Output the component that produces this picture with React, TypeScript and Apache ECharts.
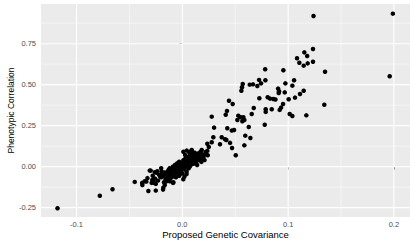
import React, { useEffect, useRef } from "react";
import * as echarts from "echarts";

const xTicks = [-0.1, 0.0, 0.1, 0.2];
const xMinor = [-0.05, 0.05, 0.15];
const yTicks = [-0.25, 0.0, 0.25, 0.5, 0.75];
const yMinor = [-0.125, 0.125, 0.375, 0.625, 0.875];
const xRange = [-0.1336, 0.2152];
const yRange = [-0.307, 0.992];

const outliers: number[][] = [
  [-0.118, -0.254], [-0.078, -0.177], [-0.066, -0.138], [-0.045, -0.093],
  [0.199, 0.933], [0.196, 0.551],
];

const upperRight: number[][] = [
  [0.124, 0.919], [0.1235, 0.718], [0.1153, 0.697], [0.118, 0.675], [0.1084, 0.661],
  [0.1106, 0.634], [0.1147, 0.616], [0.1185, 0.63], [0.1235, 0.64], [0.0955, 0.588],
  [0.1349, 0.579], [0.1056, 0.527], [0.0974, 0.508], [0.104, 0.494], [0.0905, 0.476],
  [0.0914, 0.46], [0.0911, 0.449], [0.0968, 0.453], [0.1147, 0.463], [0.1112, 0.443],
  [0.1065, 0.421], [0.1005, 0.411], [0.0952, 0.382], [0.0933, 0.36], [0.092, 0.346],
  [0.1342, 0.378], [0.1015, 0.321], [0.104, 0.309], [0.1172, 0.313], [0.088, 0.41],
];

const middle: number[][] = [
  [0.0571, 0.504], [0.0564, 0.484], [0.0558, 0.463], [0.0637, 0.5], [0.0668, 0.502],
  [0.0709, 0.492], [0.0744, 0.508], [0.0783, 0.594], [0.0785, 0.527], [0.0725, 0.529],
  [0.0441, 0.402], [0.0476, 0.382], [0.0728, 0.417], [0.0807, 0.423], [0.0829, 0.415],
  [0.086, 0.413], [0.0422, 0.34], [0.041, 0.317], [0.0675, 0.358], [0.0656, 0.321],
  [0.0788, 0.35], [0.0788, 0.334], [0.0845, 0.35], [0.0529, 0.311], [0.0552, 0.301],
  [0.052, 0.285], [0.0577, 0.301], [0.0586, 0.285], [0.0567, 0.277], [0.0628, 0.242],
  [0.0779, 0.256], [0.0425, 0.234], [0.0467, 0.22], [0.0489, 0.224], [0.0595, 0.189],
  [0.0643, 0.175], [0.0372, 0.179], [0.0404, 0.167], [0.0416, 0.163], [0.0451, 0.145],
  [0.0586, 0.13], [0.047, 0.114], [0.0505, 0.07], [0.0278, 0.305], [0.03, 0.238],
  [0.0293, 0.179], [0.0278, 0.149], [0.0356, 0.137], [0.025, 0.12], [0.0236, 0.096],
  [0.0221, 0.076], [0.0183, 0.102], [0.0236, 0.14],
];

const cluster: number[][] = [
  [0.0196, 0.051], [0.018, 0.029], [0.0117, 0.085], [0.0127, 0.065], [0.0095, 0.088],
  [0.0066, 0.085], [0.0026, 0.071], [0.0151, 0.041], [0.011, 0.021], [0.001, 0.091],
  [0.0042, 0.098], [0.0073, 0.091], [0.0089, 0.102],
  [-0.0378, -0.112], [-0.034, -0.091], [-0.0321, -0.148], [-0.0251, -0.146], [-0.0299, -0.024],
  [-0.0284, -0.081], [-0.0268, -0.098], [-0.0258, -0.073], [-0.0251, -0.105], [-0.0242, -0.037],
  [-0.0195, -0.03], [-0.018, -0.128], [-0.0166, -0.112], [-0.0154, -0.091], [-0.0147, -0.081],
  [-0.0138, -0.071], [-0.0132, -0.057], [-0.0085, -0.095], [0.0009, -0.077], [0.002, -0.06],
  [-0.0308, -0.024], [-0.026, -0.034], [-0.0236, -0.028], [-0.0277, -0.079], [-0.038, -0.099],
  [-0.0355, -0.089], [-0.029, -0.099], [-0.0173, -0.095], [-0.0119, -0.089], [-0.0104, -0.059],
  [-0.0182, -0.14], [-0.0088, -0.099],
  [-0.022, -0.05], [-0.021, -0.06], [-0.019, -0.045], [-0.018, -0.055], [-0.017, -0.035],
  [-0.016, -0.04], [-0.015, -0.05], [-0.014, -0.03], [-0.013, -0.02], [-0.012, -0.045],
  [-0.012, -0.01], [-0.011, -0.03], [-0.01, -0.055], [-0.01, -0.02], [-0.009, 0.0],
  [-0.009, -0.035], [-0.008, -0.015], [-0.008, -0.06], [-0.007, -0.025], [-0.007, 0.01],
  [-0.006, -0.04], [-0.006, -0.005], [-0.005, 0.02], [-0.005, -0.02], [-0.004, -0.03],
  [-0.004, 0.005], [-0.003, -0.01], [-0.003, 0.03], [-0.002, 0.0], [-0.002, -0.045],
  [-0.001, 0.015], [-0.001, -0.02], [0.0, 0.025], [0.0, -0.005], [0.001, 0.04],
  [0.001, 0.01], [0.002, -0.015], [0.002, 0.03], [0.003, 0.0], [0.003, 0.05],
  [0.004, 0.02], [0.004, -0.03], [0.005, 0.04], [0.005, 0.01], [0.006, 0.06],
  [0.006, 0.025], [0.007, 0.0], [0.007, 0.045], [0.008, 0.07], [0.008, 0.03],
  [0.009, 0.015], [0.009, 0.055], [0.01, 0.04], [0.01, 0.075], [0.011, 0.06],
  [0.011, 0.02], [0.012, 0.045], [0.013, 0.07], [0.013, 0.03], [0.014, 0.055],
  [0.015, 0.08], [0.016, 0.04], [0.016, 0.065], [0.018, 0.05], [0.019, 0.075],
  [0.02, 0.06], [0.022, 0.09], [0.024, 0.07],
  [-0.02, -0.065], [-0.023, -0.085], [-0.016, -0.075], [-0.011, -0.07], [-0.006, -0.065],
  [-0.003, -0.055], [0.0, -0.04], [0.004, -0.045], [0.006, -0.01], [0.014, 0.01],
  [0.017, 0.09], [0.021, 0.04], [-0.028, -0.055], [-0.033, -0.07], [-0.02, -0.01],
];

const FONT = "'Liberation Sans', Arial, Helvetica, sans-serif";

function gridSeries(): any[] {
  const out: any[] = [];
  const mk = (data: number[][], width: number) => ({
    type: "line",
    data,
    symbol: "none",
    silent: true,
    z: 1,
    lineStyle: { color: "#FFFFFF", width },
  });
  xMinor.forEach((v) => out.push(mk([[v, yRange[0]], [v, yRange[1]]], 0.5)));
  yMinor.forEach((v) => out.push(mk([[xRange[0], v], [xRange[1], v]], 0.5)));
  xTicks.forEach((v) => out.push(mk([[v, yRange[0]], [v, yRange[1]]], 1.1)));
  yTicks.forEach((v) => out.push(mk([[xRange[0], v], [xRange[1], v]], 1.1)));
  return out;
}

export default function App() {
  const ref = useRef<HTMLDivElement>(null);
  useEffect(() => {
    if (!ref.current) return;
    const chart = echarts.init(ref.current, null, { renderer: "svg" });
    const points = [...outliers, ...upperRight, ...middle, ...cluster];
    chart.setOption({
      animation: false,
      backgroundColor: "#FFFFFF",
      grid: {
        left: 41,
        top: 4,
        width: 369,
        height: 213,
        show: true,
        backgroundColor: "#EBEBEB",
        borderWidth: 0,
        containLabel: false,
        outerBoundsMode: "none",
      },
      xAxis: {
        type: "value",
        min: xRange[0],
        max: xRange[1],
        splitLine: { show: false },
        axisLine: { show: false },
        axisTick: { show: true, length: 3, customValues: xTicks, lineStyle: { color: "#333333", width: 1 } },
        axisLabel: {
          customValues: xTicks,
          formatter: (v: number) => v.toFixed(1),
          color: "#4D4D4D",
          fontSize: 7.5,
          lineHeight: 8,
          fontFamily: FONT,
          margin: 3.5,
        },
        name: "Proposed Genetic Covariance",
        nameLocation: "middle",
        nameGap: 12,
        nameMoveOverlap: false,
        nameTextStyle: { color: "#000000", fontSize: 9.5, lineHeight: 10, fontFamily: FONT },
      },
      yAxis: {
        type: "value",
        min: yRange[0],
        max: yRange[1],
        splitLine: { show: false },
        axisLine: { show: false },
        axisTick: { show: true, length: 3, customValues: yTicks, lineStyle: { color: "#333333", width: 1 } },
        axisLabel: {
          customValues: yTicks,
          formatter: (v: number) => v.toFixed(2),
          color: "#4D4D4D",
          fontSize: 7.5,
          fontFamily: FONT,
          margin: 5,
        },
        name: "Phenotypic Correlation",
        nameLocation: "middle",
        nameGap: 26,
        nameMoveOverlap: false,
        nameTextStyle: { color: "#000000", fontSize: 8.5, fontFamily: FONT },
      },
      series: [
        ...gridSeries(),
        {
          type: "scatter",
          data: points,
          symbol: "circle",
          symbolSize: 4.5,
          z: 5,
          itemStyle: { color: "#000000", opacity: 1 },
          silent: true,
        },
      ],
    });
    return () => chart.dispose();
  }, []);
  return (
    <div
      ref={ref}
      style={{ position: "fixed", left: 0, top: 0, width: 415, height: 242 }}
    />
  );
}
